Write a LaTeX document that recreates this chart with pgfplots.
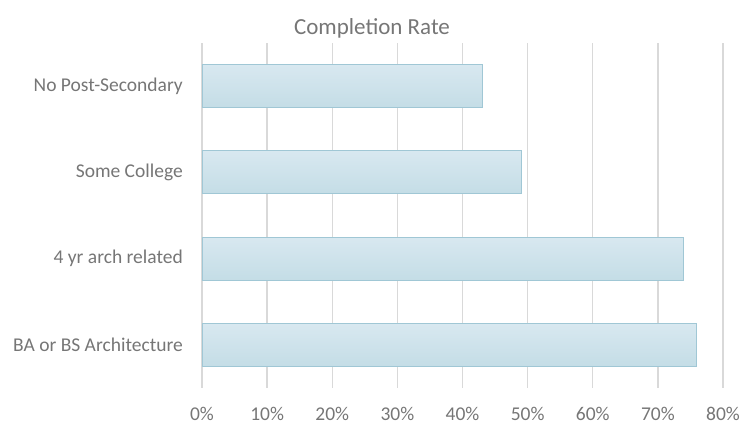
\documentclass[border=0pt]{standalone}
\usepackage{pgfplots}
\pgfplotsset{compat=1.18}
\usepackage{fontspec}
\setmainfont{Carlito}
\definecolor{txt}{RGB}{118,118,118}
\definecolor{gridc}{RGB}{217,217,217}
\definecolor{bartop}{RGB}{216,232,240}
\definecolor{barbot}{RGB}{196,221,230}
\definecolor{bordc}{RGB}{160,199,213}
\begin{document}
\begin{tikzpicture}[x=1pt,y=1pt]
\path[use as bounding box] (0,0) rectangle (741,425);
\begin{axis}[
  at={(202pt,37pt)}, anchor=south west,
  scale only axis, width=521pt, height=345pt,
  xmin=0, xmax=80, ymin=-0.5, ymax=3.5,
  xtick={0,10,...,80},
  xticklabel={\pgfmathprintnumber{\tick}\%},
  ytick={0,1,2,3},
  yticklabels={BA or BS Architecture,4 yr arch related,Some College,No Post-Secondary},
  /pgf/number format/assume math mode=true,
  axis line style={draw=none},
  major tick length=0pt,
  xmajorgrids,
  grid style={draw=gridc, line width=1.3pt},
  tick label style={font=\fontsize{19.5}{22}\selectfont, text=txt},
  xticklabel style={anchor=base, inner sep=0pt, yshift=-32pt},
  yticklabel style={anchor=east, inner sep=0pt, xshift=-19pt},
  barstyle/.style={xbar, bar width=43pt, bar shift=0pt, draw=bordc, line width=1pt, top color=bartop, bottom color=barbot},
]
\addplot[barstyle] coordinates {(76,0)};
\addplot[barstyle] coordinates {(74,1)};
\addplot[barstyle] coordinates {(49,2)};
\addplot[barstyle] coordinates {(43,3)};
\end{axis}
\node[anchor=base, text=txt, font=\fontsize{23}{27}\selectfont] at (372,390) {Completion Rate};
\end{tikzpicture}
\end{document}
